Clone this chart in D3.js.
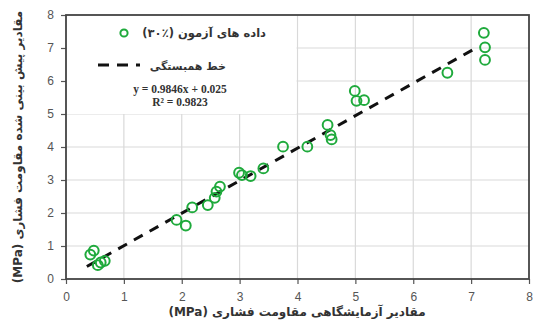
<!DOCTYPE html>
<html><head><meta charset="utf-8">
<script src="https://cdn.jsdelivr.net/npm/d3@7/dist/d3.min.js"></script>
<style>body{margin:0;background:#fff}svg{display:block}</style>
</head><body>
<svg id="c" width="533" height="323"></svg>
<script>
const measured = [0.42,0.48,0.55,0.60,0.67,1.91,2.07,2.18,2.45,2.57,2.60,2.66,2.99,3.04,3.19,3.41,3.75,4.17,4.52,4.57,4.59,4.99,5.02,5.15,6.59,7.22,7.24,7.24];
const predicted = [0.74,0.86,0.42,0.50,0.55,1.79,1.62,2.17,2.24,2.46,2.65,2.80,3.22,3.15,3.12,3.35,4.01,4.01,4.67,4.36,4.23,5.70,5.40,5.42,6.25,7.46,7.02,6.64];
const fitRange = [0.36, 7.1];
const fitSlope = 0.9846, fitIntercept = 0.025;
const xTicks = [0,1,2,3,4,5,6,7,8];
const yTicks = [0,1,2,3,4,5,6,7,8];
const legendLabels = ["داده های آزمون (٪۳۰)", "خط همبستگی"];
const eqLines = ["y = 0.9846x + 0.025", "R² = 0.9823"];
const xTitle = "مقادیر آزمایشگاهی مقاومت فشاری (MPa)";
const yTitle = "مقادیر پیش بینی شده مقاومت فشاری (MPa)";

const svg = d3.select("#c");
const L=66, R=529, T=15, B=279;
const x = d3.scaleLinear().domain([0,8]).range([L,R]);
const y = d3.scaleLinear().domain([0,8]).range([B,T]);

// grid
const g = svg.append("g");
g.selectAll(".vx").data(xTicks.slice(1,-1)).join("line")
  .attr("x1",d=>x(d)).attr("x2",d=>x(d)).attr("y1",T).attr("y2",B)
  .attr("stroke","#d9d9d9").attr("stroke-width",1.2);
g.selectAll(".hy").data(yTicks.slice(1,-1)).join("line")
  .attr("y1",d=>y(d)).attr("y2",d=>y(d)).attr("x1",L).attr("x2",R)
  .attr("stroke","#d9d9d9").attr("stroke-width",1.2);

// legend background box
svg.append("rect").attr("x",x(0)+1).attr("y",y(8)+1).attr("width",x(4)-x(0)-2).attr("height",y(5)-y(8)-1).attr("fill","#fff");

// axes
const xa = svg.append("g").attr("transform",`translate(0,${B})`)
  .call(d3.axisBottom(x).tickValues(xTicks).tickSize(5).tickPadding(8).tickFormat(d3.format("d")));
const ya = svg.append("g").attr("transform",`translate(${L},0)`)
  .call(d3.axisLeft(y).tickValues(yTicks).tickSize(5).tickPadding(7).tickFormat(d3.format("d")));
[xa,ya].forEach(a=>{
  a.select(".domain").remove();
  a.selectAll("line").attr("stroke","#555").attr("stroke-width",1.2);
  a.selectAll("text").attr("fill","#555").style("font-family","Liberation Sans, Arial, sans-serif").style("font-size","12px");
});

// frame
svg.append("rect").attr("x",L).attr("y",T).attr("width",R-L).attr("height",B-T)
  .attr("fill","none").attr("stroke","#444").attr("stroke-width",1.8);

// fit line
svg.append("line")
  .attr("x1",x(fitRange[0])).attr("y1",y(fitSlope*fitRange[0]+fitIntercept))
  .attr("x2",x(fitRange[1])).attr("y2",y(fitSlope*fitRange[1]+fitIntercept))
  .attr("stroke","#111").attr("stroke-width",3).attr("stroke-dasharray","10,8");

// points
svg.append("g").selectAll("circle").data(measured.map((m,i)=>[m,predicted[i]])).join("circle")
  .attr("cx",d=>x(d[0])).attr("cy",d=>y(d[1])).attr("r",4.9)
  .attr("fill","none").attr("stroke","#1faa3c").attr("stroke-width",2);

// legend
svg.append("circle").attr("cx",124).attr("cy",33).attr("r",3.6).attr("fill","none").attr("stroke","#1faa3c").attr("stroke-width",2);
svg.append("line").attr("x1",98).attr("x2",140).attr("y1",65).attr("y2",65)
  .attr("stroke","#111").attr("stroke-width",3).attr("stroke-dasharray","11,8");
const fa = "DejaVu Sans, Noto Sans, sans-serif";
svg.append("text").attr("x",266).attr("y",37).attr("direction","rtl").attr("text-anchor","start")
  .style("font-family",fa).style("font-weight","bold").style("font-size","11.5px").attr("fill","#333").text(legendLabels[0]);
svg.append("text").attr("x",226).attr("y",70).attr("direction","rtl").attr("text-anchor","start")
  .style("font-family",fa).style("font-weight","bold").style("font-size","11px").attr("fill","#333").text(legendLabels[1]);
eqLines.forEach((t,i)=>svg.append("text").attr("x",180).attr("y",93+i*12.5).attr("text-anchor","middle")
  .style("font-family","Liberation Serif, Times New Roman, serif").style("font-weight","bold").style("font-size","11.5px").attr("fill","#333").text(t));

// titles
svg.append("text").attr("x",297).attr("y",316).attr("direction","rtl").attr("text-anchor","middle")
  .style("font-family",fa).style("font-weight","bold").style("font-size","12px").attr("fill","#333").text(xTitle);
svg.append("text").attr("transform",`translate(22,147) rotate(-90)`).attr("direction","rtl").attr("text-anchor","middle")
  .style("font-family",fa).style("font-weight","bold").style("font-size","12px").attr("fill","#333").text(yTitle);
</script>
</body></html>
